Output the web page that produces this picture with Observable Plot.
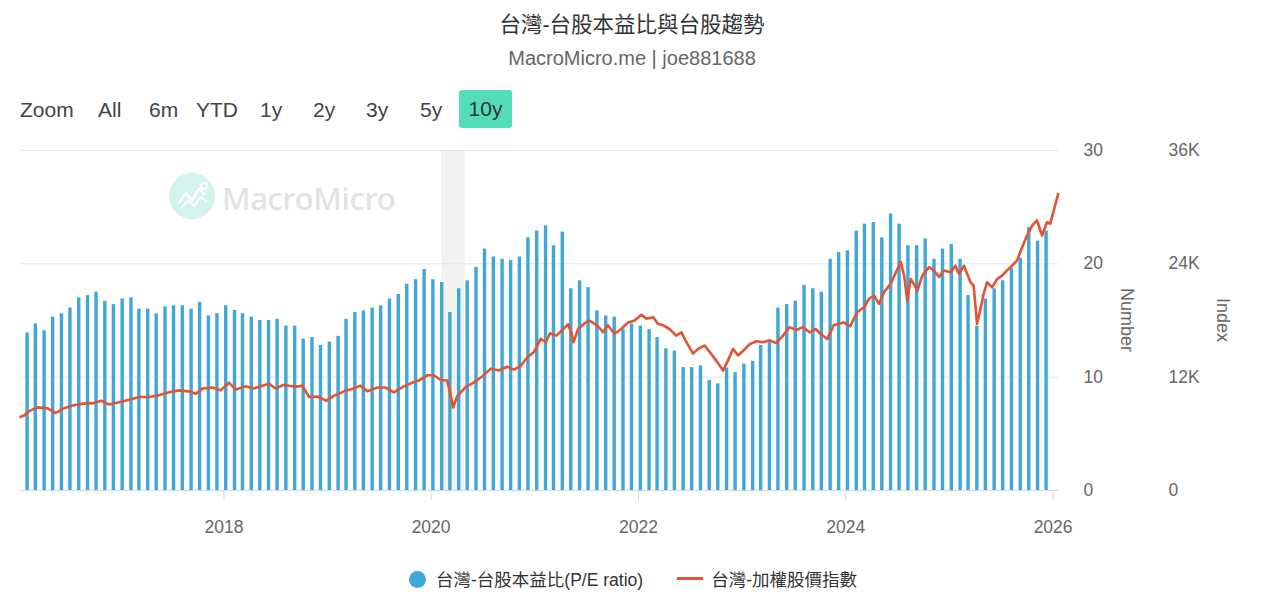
<!DOCTYPE html>
<html><head><meta charset="utf-8">
<script src="https://cdn.jsdelivr.net/npm/d3@7"></script>
<script src="https://cdn.jsdelivr.net/npm/@observablehq/plot@0.6"></script>
<style>
body{margin:0;background:#fff;font-family:"Liberation Sans","Noto Sans CJK TC",sans-serif;}
#wrap{position:relative;width:1280px;height:599px;overflow:hidden;}
.abs{position:absolute;white-space:nowrap;}
#title{left:0;width:1264px;top:11px;text-align:center;font-size:21.5px;color:#333;line-height:28px;}
#sub{left:0;width:1264px;top:46px;text-align:center;font-size:20px;color:#666;line-height:24px;}
.btn{top:98px;font-size:21px;color:#444;line-height:24px;}
#b10{left:459px;top:90px;width:53px;height:38px;background:#52dcb9;border-radius:3px;text-align:center;line-height:38px;font-size:21px;color:#333;}
#chart{left:0;top:140px;}
.rot{font-size:18px;color:#666;transform:translate(-50%,-50%) rotate(90deg);}
#wm-circle{left:169px;top:173px;width:46px;height:46px;border-radius:50%;background:#d3f3ec;}
#wm-text{left:222px;top:177px;font-family:"Noto Sans",sans-serif;font-size:31px;font-weight:500;color:#e2e2e2;letter-spacing:-0.3px;}
#legend{left:0;width:1266px;top:568px;text-align:center;font-size:17.5px;color:#333;line-height:24px;}
.dot{display:inline-block;width:17px;height:17px;border-radius:50%;vertical-align:-2px;margin-right:10px;}
.ln{display:inline-block;width:26px;height:3px;vertical-align:6px;margin-right:8px;margin-left:34px;}
</style></head>
<body><div id="wrap">
<div class="abs" id="title">台灣-台股本益比與台股趨勢</div>
<div class="abs" id="sub">MacroMicro.me | joe881688</div>
<div class="abs btn" style="left:20px">Zoom</div>
<div class="abs btn" style="left:98px">All</div>
<div class="abs btn" style="left:149px">6m</div>
<div class="abs btn" style="left:196px">YTD</div>
<div class="abs btn" style="left:260px">1y</div>
<div class="abs btn" style="left:313px">2y</div>
<div class="abs btn" style="left:366px">3y</div>
<div class="abs btn" style="left:420px">5y</div>
<div class="abs" id="b10">10y</div>
<div class="abs" id="wm-circle"><svg width="46" height="46"><polyline points="10,30 17,20 23,27 30,16 36,22" fill="none" stroke="#fff" stroke-width="2.5"/><polyline points="12,36 19,27 25,33 32,24 38,29" fill="none" stroke="#fff" stroke-width="2"/><circle cx="35" cy="13" r="3" fill="none" stroke="#fff" stroke-width="2"/></svg></div>
<div class="abs" id="wm-text">MacroMicro</div>
<div class="abs" id="chart"></div>
<div class="abs rot" style="left:1126px;top:320px">Number</div>
<div class="abs rot" style="left:1222px;top:320px">Index</div>
<div class="abs" id="legend"><span class="dot" id="ldot"></span>台灣-台股本益比(P/E ratio)<span class="ln" id="lln"></span>台灣-加權股價指數</div>
</div>
<script>
// ---- data ----
const peMonths = ["2016-02","2016-03","2016-04","2016-05","2016-06","2016-07","2016-08","2016-09","2016-10","2016-11","2016-12",
"2017-01","2017-02","2017-03","2017-04","2017-05","2017-06","2017-07","2017-08","2017-09","2017-10","2017-11","2017-12",
"2018-01","2018-02","2018-03","2018-04","2018-05","2018-06","2018-07","2018-08","2018-09","2018-10","2018-11","2018-12",
"2019-01","2019-02","2019-03","2019-04","2019-05","2019-06","2019-07","2019-08","2019-09","2019-10","2019-11","2019-12",
"2020-01","2020-02","2020-03","2020-04","2020-05","2020-06","2020-07","2020-08","2020-09","2020-10","2020-11","2020-12",
"2021-01","2021-02","2021-03","2021-04","2021-05","2021-06","2021-07","2021-08","2021-09","2021-10","2021-11","2021-12",
"2022-01","2022-02","2022-03","2022-04","2022-05","2022-06","2022-07","2022-08","2022-09","2022-10","2022-11","2022-12",
"2023-01","2023-02","2023-03","2023-04","2023-05","2023-06","2023-07","2023-08","2023-09","2023-10","2023-11","2023-12",
"2024-01","2024-02","2024-03","2024-04","2024-05","2024-06","2024-07","2024-08","2024-09","2024-10","2024-11","2024-12",
"2025-01","2025-02","2025-03","2025-04","2025-05","2025-06","2025-07","2025-08","2025-09","2025-10","2025-11","2025-12"];
const peValues = [13.9,14.7,14.1,15.3,15.6,16.1,17.0,17.2,17.5,16.7,16.4,
16.9,17.0,16.0,16.0,15.6,16.2,16.3,16.3,16.0,16.6,15.4,15.6,
16.3,15.9,15.6,15.3,15.0,15.0,15.1,14.5,14.5,13.35,13.5,12.8,
13.1,13.6,15.1,15.7,15.85,16.1,16.3,16.9,17.3,18.2,18.6,19.5,
18.6,18.35,15.7,17.8,18.5,19.7,21.3,20.6,20.4,20.3,20.6,22.3,
22.9,23.35,21.6,22.8,17.8,18.5,17.9,15.85,15.4,15.3,14.2,14.7,
14.5,14.2,13.5,12.5,12.3,10.85,10.85,11.0,9.7,9.4,10.8,10.4,
11.15,11.4,12.8,13.1,16.1,16.4,16.7,18.1,17.8,17.5,20.4,21.0,
21.15,22.9,23.5,23.65,22.3,24.4,23.5,21.6,21.6,22.2,20.4,21.3,
21.7,20.4,17.2,14.5,16.9,17.8,18.5,19.6,20.5,23.2,22.0,22.9];

const idxDates = ["2016-01-15","2016-01-28","2016-02-14","2016-03-15","2016-04-20","2016-05-17","2016-06-12","2016-07-17","2016-08-22","2016-09-26","2016-10-25","2016-11-23","2016-12-28",
"2017-02-01","2017-03-08","2017-04-12","2017-05-18","2017-06-22","2017-07-27","2017-08-31","2017-09-24","2017-10-18","2017-11-22","2017-12-20",
"2018-01-19","2018-02-12","2018-03-18","2018-04-16","2018-05-16","2018-06-09","2018-07-02","2018-07-31","2018-08-18","2018-09-16","2018-10-04","2018-10-28","2018-11-26","2018-12-28",
"2019-01-24","2019-02-28","2019-03-29","2019-04-27","2019-05-21","2019-06-26","2019-07-25","2019-08-23","2019-09-22","2019-10-21","2019-11-19","2019-12-18",
"2020-01-11","2020-02-04","2020-02-27","2020-03-19","2020-04-02","2020-05-02","2020-05-31","2020-06-30","2020-07-29","2020-08-27","2020-09-25","2020-10-19","2020-11-12","2020-12-05","2020-12-28",
"2021-01-21","2021-02-08","2021-02-23","2021-03-18","2021-04-11","2021-04-28","2021-05-10","2021-05-17","2021-06-02","2021-06-25","2021-07-12","2021-07-30","2021-08-17","2021-08-28","2021-09-15","2021-10-08","2021-11-01","2021-11-25","2021-12-18",
"2022-01-11","2022-01-29","2022-02-22","2022-03-10","2022-03-28","2022-04-20","2022-05-14","2022-06-01","2022-06-19","2022-07-12","2022-07-30","2022-08-22","2022-09-09","2022-10-02","2022-10-26","2022-11-12","2022-11-30","2022-12-18",
"2023-01-05","2023-01-28","2023-02-21","2023-03-16","2023-04-08","2023-05-01","2023-05-25","2023-06-17","2023-07-11","2023-08-03","2023-08-27","2023-09-17","2023-10-04","2023-10-28","2023-11-20","2023-12-25",
"2024-01-17","2024-02-11","2024-03-06","2024-03-23","2024-04-10","2024-04-27","2024-05-15","2024-06-08","2024-06-26","2024-07-13","2024-07-25","2024-08-05","2024-08-17","2024-09-10","2024-09-27","2024-10-21","2024-11-07","2024-11-25","2024-12-12",
"2025-01-05","2025-01-22","2025-02-03","2025-02-21","2025-03-16","2025-03-27","2025-04-08","2025-04-22","2025-05-01","2025-05-13","2025-05-31","2025-06-18","2025-07-05","2025-07-23","2025-08-09","2025-08-27","2025-09-14","2025-10-01","2025-10-19","2025-11-05","2025-11-23","2025-12-10","2025-12-22",
"2026-01-08","2026-01-19"];
const idxValuesK = [7.8,7.95,8.4,8.8,8.7,8.2,8.65,9.0,9.2,9.25,9.5,9.1,9.35,
9.6,9.9,9.9,10.1,10.4,10.6,10.5,10.25,10.8,10.9,10.6,
11.4,10.7,11.05,10.8,11.1,11.3,10.8,11.2,11.1,11.0,11.1,9.9,9.95,9.5,
10.05,10.5,10.75,11.1,10.5,10.9,10.9,10.4,10.95,11.35,11.65,12.2,
12.2,11.7,11.65,8.8,10.0,10.95,11.45,12.1,12.9,12.7,13.1,12.8,13.2,14.1,14.65,
16.05,15.7,16.65,16.4,17.1,17.6,16.6,15.7,17.1,17.7,18.0,17.65,17.2,16.75,17.5,16.6,17.1,17.8,18.0,
18.6,18.2,18.35,17.65,17.5,17.1,16.4,16.75,15.7,14.5,15.0,15.35,14.65,13.75,12.7,13.75,15.0,14.3,
14.8,15.5,15.8,15.7,15.9,15.6,16.4,17.3,17.0,17.3,16.75,17.1,16.6,16.05,17.5,17.8,
17.4,18.9,19.4,20.3,20.65,19.75,21.0,21.9,23.1,24.2,22.75,20.1,22.4,21.2,22.75,23.65,23.3,22.6,23.3,
23.1,23.8,22.95,23.8,22.05,21.7,17.65,19.5,20.8,22.05,21.5,22.4,22.75,23.3,23.8,24.35,25.75,27.0,28.05,28.6,27.0,28.4,28.25,
30.2,31.4];

const xTickYears = ["2018","2020","2022","2024","2026"];
const yTicksNumber = [0,10,20,30];
const yTicksIndexK = [0,12,24,36];
const bandPeriod = [{start:"2020-02-07", end:"2020-04-30"}];
const xDomain = ["2016-01-15","2026-01-20"];

// ---- styling ----
const barColor = "#40a8d6";
const lineColor = "#e35434";
document.getElementById("ldot").style.background = barColor;
document.getElementById("lln").style.background = lineColor;

const pe = peMonths.map((m,i)=>({date:new Date(m+"-01"), v:peValues[i]}));
const idx = idxDates.map((d,i)=>({date:new Date(d), k:idxValuesK[i]}));
const ratio = yTicksIndexK[3] / yTicksNumber[3]; // 36K maps onto 30

const chart = Plot.plot({
  width:1280, height:400,
  marginTop:10, marginBottom:50, marginLeft:20, marginRight:222,
  style:{fontFamily:'"Liberation Sans","Noto Sans CJK TC",sans-serif', fontSize:"17.5px", color:"#666", background:"transparent", overflow:"visible"},
  x:{type:"utc", domain:xDomain.map(d=>new Date(d))},
  y:{domain:[0,30]},
  marks:[
    Plot.rect(bandPeriod, {x1:d=>new Date(d.start), x2:d=>new Date(d.end), y1:()=>0, y2:()=>30, fill:"#f2f2f2"}),
    Plot.gridY(yTicksNumber.filter(d=>d>0), {stroke:"#e6e6e6", strokeOpacity:1}),
    Plot.rectY(pe, {x1:d=>d3.utcDay.offset(d.date,2), x2:d=>d3.utcDay.offset(d.date,14), y:"v", fill:barColor}),
    Plot.ruleY([0], {stroke:"#ccd6eb"}),
    Plot.line(idx, {x:"date", y:d=>d.k/ratio, stroke:lineColor, strokeWidth:2.6, curve:"linear"}),
    Plot.axisX(xTickYears.map(y=>new Date(y+"-01-01")), {tickFormat:d3.utcFormat("%Y"), tickSize:10, tickPadding:20, stroke:"#ccd6eb", fill:"#666", label:null}),
    Plot.axisY(yTicksNumber, {anchor:"right", tickSize:0, tickPadding:25, fill:"#666", label:null}),
    Plot.axisY(yTicksNumber, {anchor:"right", tickSize:0, tickPadding:110, fill:"#666", label:null,
      tickFormat:(d)=> yTicksIndexK[yTicksNumber.indexOf(d)] === 0 ? "0" : yTicksIndexK[yTicksNumber.indexOf(d)] + "K"})
  ]
});
document.getElementById("chart").appendChild(chart);
</script>
</body></html>
